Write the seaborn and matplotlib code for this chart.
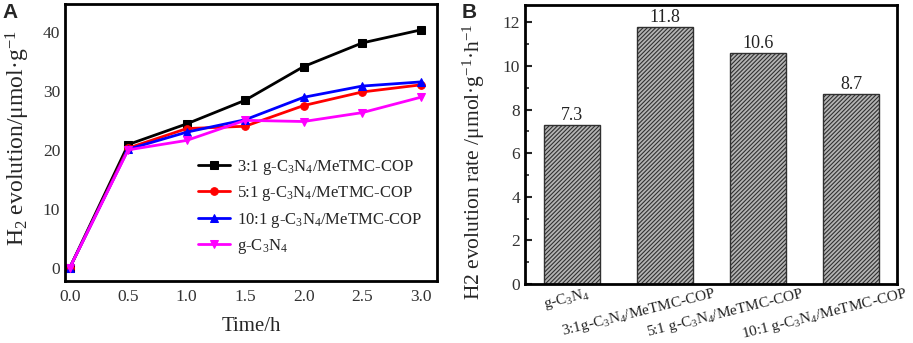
import numpy as np
import pandas as pd
import matplotlib
matplotlib.use("Agg")
import matplotlib.pyplot as plt
import matplotlib.transforms as mtrans
import seaborn as sns
from matplotlib.ticker import MultipleLocator, FormatStrFormatter

time_h = [0.0, 0.5, 1.0, 1.5, 2.0, 2.5, 3.0]
h2_31 = [0.0, 20.9, 24.4, 28.4, 34.1, 38.1, 40.3]
h2_51 = [0.0, 20.3, 23.6, 24.0, 27.5, 29.8, 31.0]
h2_101 = [0.0, 20.1, 23.0, 25.1, 28.9, 30.8, 31.5]
h2_gcn = [0.0, 20.0, 21.6, 25.0, 24.8, 26.3, 28.9]
series_labels = ["3:1 g-C$_3$N$_4$/MeTMC-COP", "5:1 g-C$_3$N$_4$/MeTMC-COP",
                 "10:1 g-C$_3$N$_4$/MeTMC-COP", "g-C$_3$N$_4$"]

bar_labels = ["g-C$_3$N$_4$", "3:1g-C$_3$N$_4$/MeTMC-COP",
              "5:1 g-C$_3$N$_4$/MeTMC-COP", "10:1 g-C$_3$N$_4$/MeTMC-COP"]
rates = [7.3, 11.8, 10.6, 8.7]

sns.set_theme(style="white")
plt.rcParams["font.family"] = ["Liberation Serif", "DejaVu Serif"]
plt.rcParams["mathtext.fontset"] = "custom"
plt.rcParams["mathtext.rm"] = "Liberation Serif"
plt.rcParams["mathtext.it"] = "Liberation Serif:italic"
plt.rcParams["mathtext.bf"] = "Liberation Serif:bold"
plt.rcParams["hatch.linewidth"] = 0.8
plt.rcParams["hatch.color"] = "#404040"

fig = plt.figure(figsize=(9.13, 3.43), dpi=100)
axA = fig.add_axes([0.0712, 0.1808, 0.4074, 0.8076])
axB = fig.add_axes([0.575, 0.172, 0.4075, 0.8134])

tickcol = "#333333"
colors = ["black", "#ff0000", "#0000ff", "#ff00ff"]
markers = ["s", "o", "^", "v"]
for vals, lab, c, m in zip([h2_31, h2_51, h2_101, h2_gcn], series_labels, colors, markers):
    df = pd.DataFrame({"t": time_h, "v": vals})
    sns.lineplot(data=df, x="t", y="v", ax=axA, color=c, marker=m, markersize=5.5,
                 markeredgecolor=c, linewidth=2, label=lab)

axA.set_xlim(-0.04, 3.14)
axA.set_ylim(-2.2, 44.7)
axA.xaxis.set_major_locator(MultipleLocator(0.5))
axA.xaxis.set_minor_locator(MultipleLocator(0.25))
axA.yaxis.set_major_locator(MultipleLocator(10))
axA.yaxis.set_minor_locator(MultipleLocator(5))
axA.xaxis.set_major_formatter(FormatStrFormatter("%.1f"))
axA.set_xlabel("Time/h", fontsize=15)
axA.xaxis.set_label_coords(0.5, -0.13)
axA.set_ylabel("H$_2$ evolution/μmol·g$^{-1}$", fontsize=17)
axA.yaxis.set_label_coords(-0.09, 0.515)
axA.tick_params(axis="both", which="major", direction="in", length=5, width=1.5,
                labelsize=12.5, colors="black", labelcolor=tickcol)
axA.tick_params(axis="x", which="major", pad=6)
axA.tick_params(axis="both", which="minor", direction="in", length=3, width=1.2)
leg = axA.legend(loc="lower right", bbox_to_anchor=(1.0, 0.035), frameon=False,
                 fontsize=12, handlelength=1.9, labelspacing=0.45, handletextpad=0.4)
for sp in axA.spines.values():
    sp.set_linewidth(2)
    sp.set_color("black")

dfb = pd.DataFrame({"sample": bar_labels, "rate": rates})
sns.barplot(data=dfb, x="sample", y="rate", ax=axB, color="#b4b4b4", width=0.6,
            edgecolor="black", linewidth=1.0, saturation=1)
for p in axB.patches:
    p.set_hatch("////////")
    p.set_edgecolor("#303030")
for i, v in enumerate(rates):
    axB.text(i, v + 0.05, f"{v}", ha="center", va="bottom", fontsize=13, color="#222222")
axB.set_xlim(-0.5, 3.49)
axB.set_ylim(0, 12.8)
axB.yaxis.set_major_locator(MultipleLocator(2))
axB.yaxis.set_minor_locator(MultipleLocator(1))
axB.set_xlabel("")
axB.set_ylabel("H2 evolution rate /μmol·g$^{-1}$·h$^{-1}$", fontsize=15.5)
axB.yaxis.set_label_coords(-0.103, 0.44)
axB.tick_params(axis="y", which="major", direction="in", length=5, width=1.5,
                labelsize=12.5, labelcolor=tickcol, left=True)
axB.tick_params(axis="y", which="minor", direction="in", length=3, width=1.2, left=True)
axB.tick_params(axis="x", which="both", length=0, labelsize=11, pad=1, labelcolor="#222222")
shifts = [-5, -26, -33, -27]
for lbl, s in zip(axB.get_xticklabels(), shifts):
    lbl.set_rotation(14)
    lbl.set_ha("center")
    lbl.set_va("top")
    lbl.set_transform(lbl.get_transform() + mtrans.ScaledTranslation(s / 100, 0, fig.dpi_scale_trans))
for sp in axB.spines.values():
    sp.set_linewidth(2)
    sp.set_color("black")

fig.text(0.003, 0.99, "A", fontsize=15, fontweight="bold", family="Liberation Sans",
         va="top", ha="left")
fig.text(0.506, 0.99, "B", fontsize=15, fontweight="bold", family="Liberation Sans",
         va="top", ha="left")

fig.savefig("out.png", dpi=100)
